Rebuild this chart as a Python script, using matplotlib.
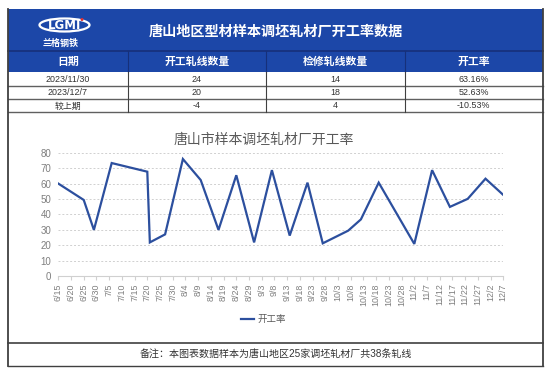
import matplotlib
matplotlib.use("Agg")
import matplotlib.pyplot as plt
import matplotlib.dates as mdates
from matplotlib.patches import Rectangle, Ellipse
import pandas as pd

plt.rcParams['font.family'] = ['Liberation Sans', 'Noto Sans CJK SC', 'DejaVu Sans']

# ---------------- data ----------------
header_title = "唐山地区型材样本调坯轧材厂开工率数据"
col_headers = ["日期", "开工轧线数量", "检修轧线数量", "开工率"]
row_dates = ["2023/11/30", "2023/12/7", "较上期"]
running_lines = ["24", "20", "-4"]
repair_lines = ["14", "18", "4"]
rate_text = ["63.16%", "52.63%", "-10.53%"]

chart_title = "唐山市样本调坯轧材厂开工率"
series_name = "开工率"
dates = ["2023-06-15", "2023-06-25", "2023-06-29", "2023-07-06", "2023-07-20",
         "2023-07-21", "2023-07-27", "2023-08-03", "2023-08-10", "2023-08-17",
         "2023-08-24", "2023-08-31", "2023-09-07", "2023-09-14", "2023-09-21",
         "2023-09-27", "2023-10-07", "2023-10-12", "2023-10-19", "2023-11-02",
         "2023-11-09", "2023-11-16", "2023-11-23", "2023-11-30", "2023-12-07"]
rates = [60.0, 49.4, 30.0, 73.3, 67.7,
         21.9, 27.1, 75.9, 62.3, 30.0,
         65.4, 21.9, 68.7, 26.3, 60.6,
         21.3, 29.5, 36.8, 60.6, 20.9,
         68.7, 44.9, 50.1, 63.16, 52.63]
footnote = "备注：本图表数据样本为唐山地区25家调坯轧材厂共38条轧线"

# ---------------- figure ----------------
W, H = 554, 373
fig = plt.figure(figsize=(W / 100, H / 100), dpi=100)
fig.patch.set_facecolor("white")

bg = fig.add_axes([0, 0, 1, 1])
bg.set_xlim(0, W)
bg.set_ylim(H, 0)
bg.axis("off")

BLUE = "#1C47A8"
DARK = "#404040"
L, R = 7.5, 542.5
cols = [L, 128, 266, 404.5, R]

# header
bg.add_patch(Rectangle((L, 9), R - L, 42, facecolor=BLUE, edgecolor="none"))
bg.add_patch(Rectangle((L, 51), R - L, 21.3, facecolor=BLUE, edgecolor="none"))
bg.plot([L, R], [51, 51], color="#16307a", lw=1.2)
for c in cols[1:-1]:
    bg.plot([c, c], [51, 72.3], color="#16307a", lw=0.8)
bg.text(276, 31, header_title, color="white", fontsize=10.2, fontweight="bold",
        ha="center", va="center")

# logo
bg.add_patch(Ellipse((64.5, 25), 50, 13, facecolor="none", edgecolor="white", lw=1.6))
bg.text(64.5, 25.3, "LGMI", color="white", fontsize=8.5, fontweight="bold",
        ha="center", va="center", family="DejaVu Sans")
bg.add_patch(Ellipse((82, 19.5), 3, 3, facecolor="#e03030", edgecolor="none"))
bg.text(61, 43, "兰格钢铁", color="white", fontsize=6.5, fontweight="bold",
        ha="center", va="center", style="italic")

# column headers
for i, h in enumerate(col_headers):
    bg.text((cols[i] + cols[i + 1]) / 2, 61.8, h, color="white", fontsize=7.8,
            fontweight="bold", ha="center", va="center")

# data rows
row_edges = [72.3, 86, 99, 112.3]
for r in range(3):
    yc = (row_edges[r] + row_edges[r + 1]) / 2 + 0.3
    vals = [row_dates[r], running_lines[r], repair_lines[r], rate_text[r]]
    for i, v in enumerate(vals):
        bg.text((cols[i] + cols[i + 1]) / 2, yc, v, color="#333333", fontsize=6.4,
                ha="center", va="center")
for y in row_edges[1:]:
    bg.plot([L, R], [y, y], color="#606060", lw=1.0)
for c in cols[1:-1]:
    bg.plot([c, c], [72.3, 112.3], color="#404040", lw=0.8)

# outer borders
bg.plot([L, L], [9, 366], color=DARK, lw=1.3)
bg.plot([R, R], [9, 366], color=DARK, lw=1.3)
bg.plot([L, R], [343, 343], color=DARK, lw=1.2)
bg.plot([L, R], [366, 366], color=DARK, lw=1.0)

# footnote
bg.text(276, 355, footnote, color="#333333", fontsize=7.2, ha="center", va="center")

# chart title
bg.text(264, 139.5, chart_title, color="#595959", fontsize=10, ha="center", va="center")

# legend
LINE = "#2C4F9E"
bg.plot([241, 254], [319, 319], color=LINE, lw=1.6)
bg.text(258, 319, series_name, color="#595959", fontsize=6.8, ha="left", va="center")

# ---------------- chart axes ----------------
x0, x1 = 58.3, 503.3
y_top, y_bot = 152.7, 276.2
ax = fig.add_axes([x0 / W, 1 - y_bot / H, (x1 - x0) / W, (y_bot - y_top) / H])
ax.patch.set_alpha(0)

d = pd.to_datetime(dates)
ax.plot(d, rates, color=LINE, lw=1.6, solid_joinstyle="miter")

ax.set_xlim(pd.Timestamp("2023-06-15"), pd.Timestamp("2023-12-07"))
ax.set_ylim(0, 80)
ax.set_yticks(range(0, 81, 10))
ticks = pd.date_range("2023-06-15", "2023-12-07", freq="5D")
ax.set_xticks(ticks)
ax.set_xticklabels([f"{t.month}/{t.day}" for t in ticks], rotation=90)

ax.grid(axis="y", color="#d0d0d0", linestyle=(0, (2, 2)), lw=0.7)
ax.set_axisbelow(True)
for s in ["top", "right", "left"]:
    ax.spines[s].set_visible(False)
ax.spines["bottom"].set_color("#d0d0d0")
ax.spines["bottom"].set_linewidth(0.8)
ax.tick_params(axis="y", length=0, pad=5, labelsize=7, labelcolor="#7f7f7f")
ax.tick_params(axis="x", length=3, color="#d0d0d0", pad=2, labelsize=6.4,
               labelcolor="#7f7f7f")

fig.savefig("out.png", dpi=100, facecolor="white")
